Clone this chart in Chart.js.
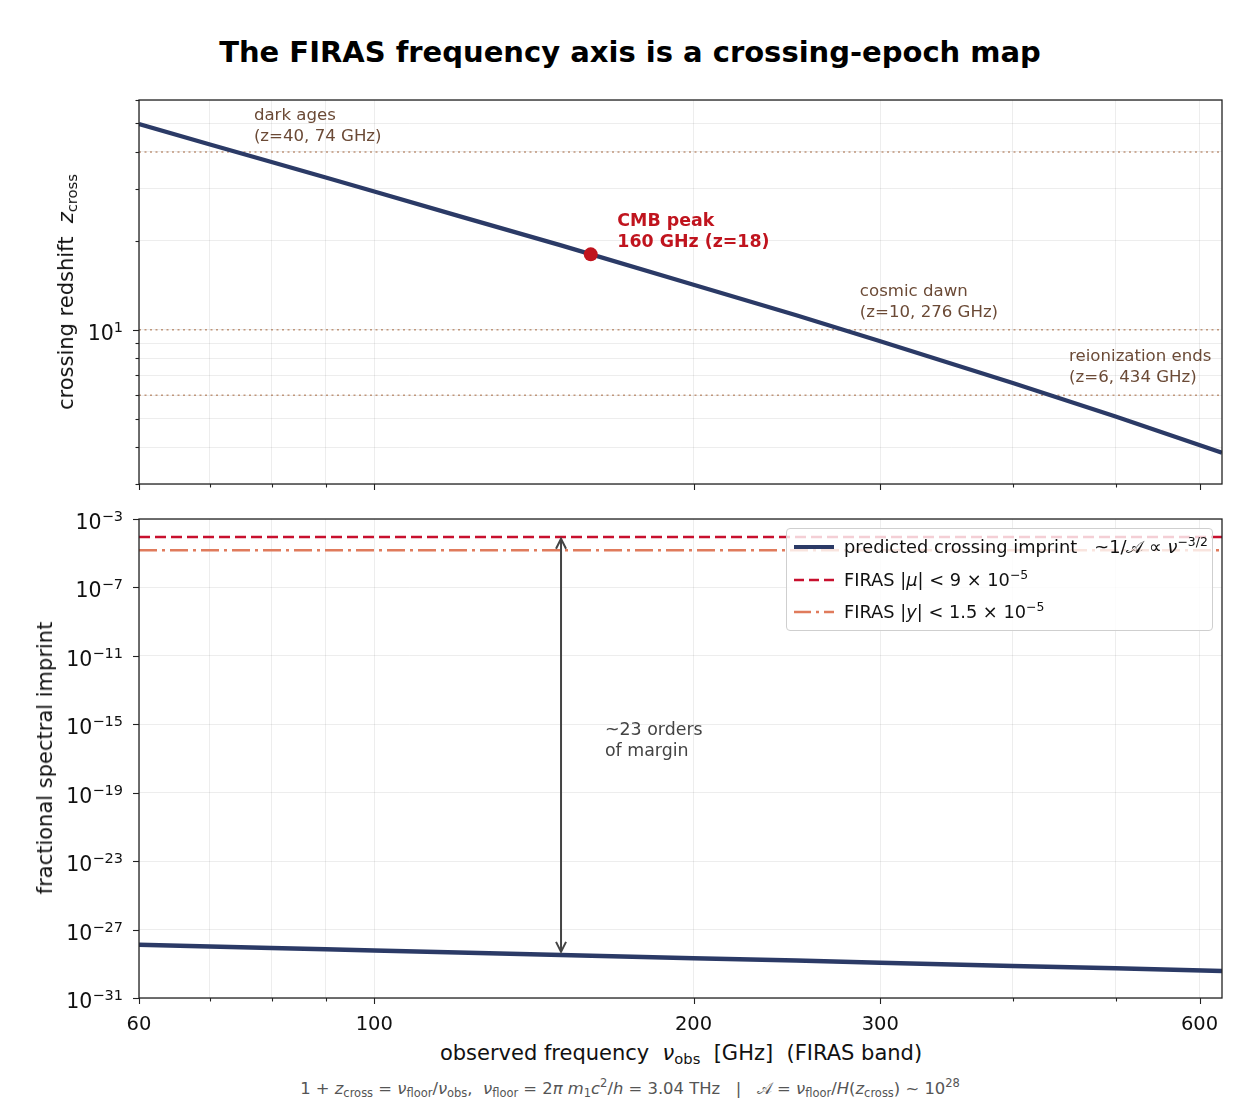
<!DOCTYPE html>
<html>
<head>
<meta charset="utf-8">
<script src="https://cdn.jsdelivr.net/npm/chart.js@4.4.0/dist/chart.umd.min.js"></script>
<style>
    body { margin: 0; background: #fff; font-family: "DejaVu Sans", sans-serif; }
    #page { position: relative; width: 1260px; height: 1110px; overflow: hidden; }
    canvas { position: absolute; left: 0; }
    .txt { position: absolute; white-space: nowrap; color: #111; }
    .rot { transform: translate(-50%, -50%) rotate(-90deg); }
    sub, sup { font-size: 70%; line-height: 0; }
    sub { vertical-align: -0.3em; }
    sup { vertical-align: 0.6em; }
    #title { left: 0; width: 1260px; top: 35px; line-height: 34px; text-align: center; font-size: 29px; font-weight: bold; color: #000; }
    .axlbl { font-size: 21px; }
    #legend { position: absolute; left: 786px; top: 528px; width: 425px; height: 101px;
              border: 1px solid #cfcfcf; border-radius: 4px; background: rgba(255,255,255,0.8); z-index: 5; }
    .row { position: absolute; left: 6px; height: 22px; font-size: 17.8px; color: #111; white-space: nowrap; }
    .row svg { position: absolute; left: 0; top: 6px; }
    .row span { position: absolute; left: 51px; top: 0; line-height: 22px; }
    #footer { left: 0; width: 1260px; top: 1079px; text-align: center; font-size: 16.4px; color: #555; }
</style>
</head>
<body>
<div id="page">
    <div id="title" class="txt">The FIRAS frequency axis is a crossing-epoch map</div>
    <canvas id="topChart" width="1260" height="410" style="top:90px"></canvas>
    <canvas id="bottomChart" width="1260" height="540" style="top:500px"></canvas>

    <div class="txt rot axlbl" style="left:66px; top:292px">crossing redshift&nbsp; <i>z</i><sub>cross</sub></div>
    <div class="txt rot axlbl" style="left:45px; top:758px">fractional spectral imprint</div>
    <div class="txt axlbl" style="left:681px; top:1053px; transform: translate(-50%, -50%)">observed frequency&nbsp; <i>ν</i><sub>obs</sub>&nbsp; [GHz]&nbsp; (FIRAS band)</div>

    <div id="legend">
        <div class="row" style="top:7px">
            <svg width="42" height="10"><line x1="1" y1="5" x2="41" y2="5" stroke="#2b3a66" stroke-width="4"/></svg>
            <span>predicted crossing imprint&nbsp;&nbsp; ~1/𝒜 ∝ <i>ν</i><sup>−3/2</sup></span>
        </div>
        <div class="row" style="top:40px">
            <svg width="42" height="10"><line x1="1" y1="5" x2="41" y2="5" stroke="#c8102e" stroke-width="2.5" stroke-dasharray="10,5"/></svg>
            <span>FIRAS |<i>μ</i>| &lt; 9 × 10<sup>−5</sup></span>
        </div>
        <div class="row" style="top:72px">
            <svg width="42" height="10"><line x1="1" y1="5" x2="41" y2="5" stroke="#e07b5c" stroke-width="2.5" stroke-dasharray="17,5,3,5"/></svg>
            <span>FIRAS |<i>y</i>| &lt; 1.5 × 10<sup>−5</sup></span>
        </div>
    </div>

    <div id="footer" class="txt">1 + <i>z</i><sub>cross</sub> = <i>ν</i><sub>floor</sub>/<i>ν</i><sub>obs</sub>,&nbsp; <i>ν</i><sub>floor</sub> = 2<i>π</i> <i>m</i><sub>1</sub><i>c</i><sup>2</sup>/<i>h</i> = 3.04 THz &nbsp; | &nbsp; 𝒜 = <i>ν</i><sub>floor</sub>/<i>H</i>(<i>z</i><sub>cross</sub>) ~ 10<sup>28</sup></div>
</div>

<script>
// ---- data ----
const freqGHz = [60, 70, 80, 90, 100, 120, 150, 200, 250, 300, 400, 500, 630];
const zCross = [49.7, 42.4, 37.0, 32.8, 29.4, 24.3, 19.3, 14.2, 11.2, 9.13, 6.6, 5.08, 3.83];
const imprint = [1.3e-28, 1.03e-28, 8.4e-29, 7.1e-29, 6.0e-29, 4.6e-29, 3.3e-29, 2.1e-29, 1.55e-29, 1.16e-29, 7.5e-30, 5.4e-30, 3.8e-30];

const epochZ = [40, 10, 6];            // dark ages, cosmic dawn, reionization ends
const cmbPeak = { nu: 160, z: 18 };
const firasMu = 9e-5;
const firasY = 1.5e-5;
const marginArrow = { nu: 150, from: 7e-5, to: 5e-29 };

const xTicks = [60, 70, 80, 90, 100, 200, 300, 400, 500, 600];
const xLabelled = [60, 100, 200, 300, 600];
const zTicks = [3, 4, 5, 6, 7, 8, 9, 10, 20, 30, 40, 50, 60];
const zLabelled = [10];
const imprintExponents = [-31, -27, -23, -19, -15, -11, -7, -3];

const NAVY = '#2b3a66';
const BROWN = '#6b4a36';
const FONT = '"DejaVu Sans"';

const gridColor = 'rgba(0,0,0,0.07)';

// frame, outward ticks (short minor ones) and 10^n labels, matplotlib style
function framePlugin(xMajor, yLabelFor) {
    return {
        id: 'frame',
        afterDraw(chart) {
            const { ctx, chartArea: a } = chart;
            const xs = chart.scales.x, ys = chart.scales.y;
            ctx.save();
            ctx.strokeStyle = '#222';
            ctx.lineWidth = 1.3;
            ctx.strokeRect(a.left, a.top, a.right - a.left, a.bottom - a.top);
            ctx.lineWidth = 1.1;
            xs.ticks.forEach(t => {
                const px = Math.round(xs.getPixelForValue(t.value)) + 0.5;
                const len = xMajor.includes(t.value) ? 6 : 3.5;
                ctx.beginPath(); ctx.moveTo(px, a.bottom); ctx.lineTo(px, a.bottom + len); ctx.stroke();
            });
            ctx.fillStyle = '#111';
            ctx.textBaseline = 'alphabetic';
            ctx.textAlign = 'left';
            ys.ticks.forEach(t => {
                const py = Math.round(ys.getPixelForValue(t.value)) + 0.5;
                const exp = yLabelFor(t.value);
                const len = exp !== null ? 6 : 3.5;
                ctx.beginPath(); ctx.moveTo(a.left, py); ctx.lineTo(a.left - len, py); ctx.stroke();
                if (exp === null) return;
                const e = String(exp).replace('-', '−');
                ctx.font = '14.5px ' + FONT;
                const ew = ctx.measureText(e).width;
                ctx.font = '20.5px ' + FONT;
                const bw = ctx.measureText('10').width;
                const right = a.left - 16;
                ctx.fillText('10', right - ew - bw, py + 9);
                ctx.font = '14.5px ' + FONT;
                ctx.fillText(e, right - ew, py + 1);
            });
            ctx.restore();
        }
    };
}

// text notes placed in data coordinates
function notesPlugin(notes) {
    return {
        id: 'notes',
        afterDatasetsDraw(chart) {
            const { ctx } = chart;
            ctx.save();
            ctx.textBaseline = 'top';
            notes.forEach(n => {
                const px = chart.scales.x.getPixelForValue(n.nu);
                const py = chart.scales.y.getPixelForValue(n.y);
                ctx.fillStyle = n.color;
                ctx.font = n.font;
                n.lines.forEach((l, i) => ctx.fillText(l, px, py + i * n.lh));
            });
            ctx.restore();
        }
    };
}

const arrowPlugin = {
    id: 'arrow',
    afterDatasetsDraw(chart) {
        const { ctx } = chart;
        const x = chart.scales.x.getPixelForValue(marginArrow.nu);
        const y1 = chart.scales.y.getPixelForValue(marginArrow.from);
        const y2 = chart.scales.y.getPixelForValue(marginArrow.to);
        ctx.save();
        ctx.strokeStyle = '#444';
        ctx.lineWidth = 2;
        ctx.beginPath(); ctx.moveTo(x, y1); ctx.lineTo(x, y2); ctx.stroke();
        [[y1, 1], [y2, -1]].forEach(([y, d]) => {
            ctx.beginPath();
            ctx.moveTo(x - 5, y + d * 10); ctx.lineTo(x, y); ctx.lineTo(x + 5, y + d * 10);
            ctx.stroke();
        });
        ctx.restore();
    }
};

const xAxis = (showLabels, height) => ({
    type: 'logarithmic',
    min: 60,
    max: 630,
    afterBuildTicks: s => { s.ticks = xTicks.map(v => ({ value: v })); },
    afterFit: s => { s.height = height; s.paddingLeft = 0; s.paddingRight = 0; },
    border: { display: false },
    grid: { color: gridColor, drawTicks: false },
    ticks: {
        display: showLabels,
        autoSkip: false,
        maxRotation: 0,
        padding: 15,
        color: '#111',
        font: { family: 'DejaVu Sans', size: 19.5 },
        callback: v => xLabelled.includes(v) ? String(v) : ''
    }
});

const yAxis = (min, max, tickValues) => ({
    type: 'logarithmic',
    min: min,
    max: max,
    afterBuildTicks: s => { s.ticks = tickValues.map(v => ({ value: v })); },
    afterFit: s => { s.width = 139; s.paddingTop = 0; s.paddingBottom = 0; },
    border: { display: false },
    grid: { color: gridColor, drawTicks: false },
    ticks: { display: false }
});

// ---- top panel: crossing redshift ----
new Chart(document.getElementById('topChart'), {
    type: 'line',
    data: {
        datasets: [
            { data: [{ x: cmbPeak.nu, y: cmbPeak.z }], showLine: false, pointRadius: 7, pointBackgroundColor: '#c0141e', pointBorderWidth: 0, order: 0 },
            { data: freqGHz.map((f, i) => ({ x: f, y: zCross[i] })), borderColor: NAVY, borderWidth: 4.2, pointRadius: 0, order: 1 },
            ...epochZ.map(z => ({ data: [{ x: 60, y: z }, { x: 630, y: z }], borderColor: 'rgba(185,140,110,0.9)', borderWidth: 1.5, borderDash: [2, 3.5], pointRadius: 0, order: 3 }))
        ]
    },
    options: {
        responsive: false,
        animation: false,
        layout: { padding: { top: 10, right: 38, left: 0, bottom: 0 } },
        plugins: { legend: { display: false }, tooltip: { enabled: false } },
        scales: {
            x: xAxis(false, 16),
            y: yAxis(3, 60, zTicks)
        }
    },
    plugins: [
        framePlugin(xLabelled, v => zLabelled.includes(v) ? Math.round(Math.log10(v)) : null),
        notesPlugin([
            { nu: 77, y: 56.6, lines: ['dark ages', '(z=40, 74 GHz)'], color: BROWN, font: '16.6px ' + FONT, lh: 21 },
            { nu: 169.5, y: 24.9, lines: ['CMB peak', '160 GHz (z=18)'], color: '#c0141e', font: 'bold 17.4px ' + FONT, lh: 21 },
            { nu: 287, y: 14.4, lines: ['cosmic dawn', '(z=10, 276 GHz)'], color: BROWN, font: '16.6px ' + FONT, lh: 21 },
            { nu: 452, y: 8.62, lines: ['reionization ends', '(z=6, 434 GHz)'], color: BROWN, font: '16.6px ' + FONT, lh: 21 }
        ])
    ]
});

// ---- bottom panel: spectral imprint vs FIRAS limits ----
new Chart(document.getElementById('bottomChart'), {
    type: 'line',
    data: {
        datasets: [
            { data: freqGHz.map((f, i) => ({ x: f, y: imprint[i] })), borderColor: NAVY, borderWidth: 4.5, pointRadius: 0 },
            { data: [{ x: 60, y: firasMu }, { x: 630, y: firasMu }], borderColor: '#c8102e', borderWidth: 2.5, borderDash: [11, 5], pointRadius: 0 },
            { data: [{ x: 60, y: firasY }, { x: 630, y: firasY }], borderColor: '#e07b5c', borderWidth: 2.5, borderDash: [18, 5, 3, 5], pointRadius: 0 }
        ]
    },
    options: {
        responsive: false,
        animation: false,
        layout: { padding: { top: 19, right: 38, left: 0, bottom: 0 } },
        plugins: { legend: { display: false }, tooltip: { enabled: false } },
        scales: {
            x: xAxis(true, 42),
            y: yAxis(1e-31, 1e-3, imprintExponents.map(e => Number('1e' + e)))
        }
    },
    plugins: [
        framePlugin(xLabelled, v => Math.round(Math.log10(v))),
        arrowPlugin,
        notesPlugin([
            { nu: 165, y: 1.35e-15, lines: ['~23 orders', 'of margin'], color: '#444', font: '17.4px ' + FONT, lh: 21 }
        ])
    ]
});
</script>
</body>
</html>
